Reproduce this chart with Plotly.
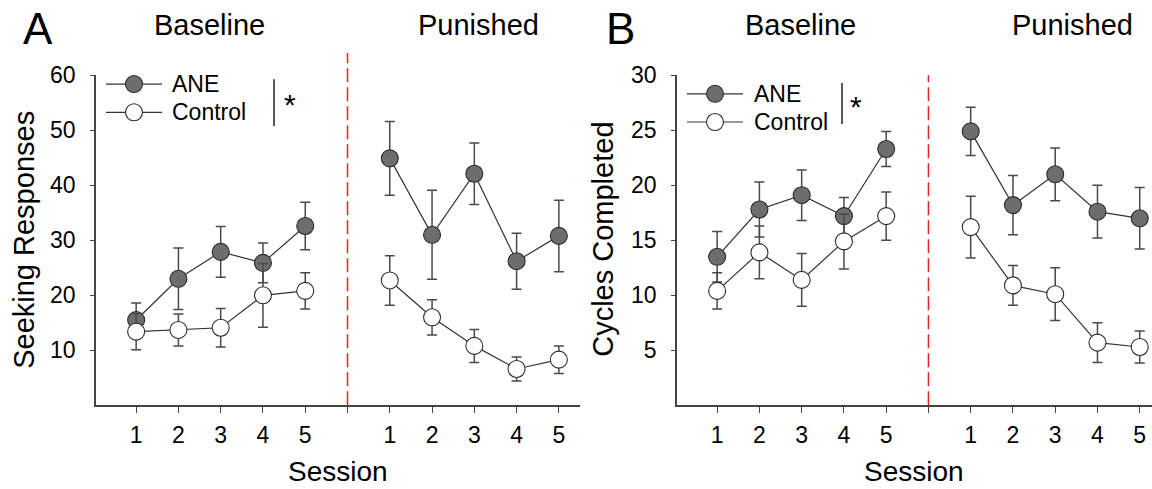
import plotly.graph_objects as go

W, H = 1152, 489
FONT = "Liberation Sans, Arial, sans-serif"

# ---------------- data ----------------
sessions = [1, 2, 3, 4, 5]
tick_labels = ["1", "2", "3", "4", "5", "", "1", "2", "3", "4", "5"]
phases = ["Baseline", "Punished"]

A_ane_base = [15.5, 23.0, 27.9, 25.9, 32.6]
A_ane_base_err = [3.1, 5.6, 4.6, 3.6, 4.3]
A_ctl_base = [13.4, 13.7, 14.1, 20.0, 20.8]
A_ctl_base_err = [3.3, 2.9, 3.5, 5.8, 3.3]
A_ane_pun = [44.9, 31.0, 42.1, 26.2, 30.8]
A_ane_pun_err = [6.7, 8.1, 5.6, 5.1, 6.5]
A_ctl_pun = [22.7, 16.0, 10.8, 6.6, 8.3]
A_ctl_pun_err = [4.5, 3.2, 3.0, 2.2, 2.5]

B_ane_base = [13.5, 17.8, 19.1, 17.2, 23.3]
B_ane_base_err = [2.3, 2.5, 2.3, 1.7, 1.6]
B_ctl_base = [10.4, 13.9, 11.4, 14.9, 17.2]
B_ctl_base_err = [1.65, 2.4, 2.4, 2.5, 2.2]
B_ane_pun = [24.9, 18.2, 21.0, 17.6, 17.0]
B_ane_pun_err = [2.2, 2.7, 2.4, 2.4, 2.8]
B_ctl_pun = [16.2, 10.9, 10.1, 5.7, 5.3]
B_ctl_pun_err = [2.8, 1.8, 2.4, 1.8, 1.45]

A_yticks = [10, 20, 30, 40, 50, 60]
B_yticks = [5, 10, 15, 20, 25, 30]

# ---------------- helpers ----------------
base_x = sessions
pun_x = [s + 6 for s in sessions]
break_x = 6

def px(x):
    return x / W

def py(y):
    return 1 - y / H

ANE_FILL = "#6d6d6d"
EDGE = "#2b2b2b"
LINE = "#333333"
ERR = "#4a4a4a"

fig = go.Figure()

def add_series(xs, ys, errs, fill, xa, ya):
    fig.add_trace(go.Scatter(
        x=xs, y=ys, mode="lines+markers",
        line=dict(color=LINE, width=1.2),
        marker=dict(size=17, color=fill, line=dict(color=EDGE, width=1.1)),
        error_y=dict(type="data", array=errs, visible=True, color=ERR,
                     thickness=1.5, width=5),
        xaxis=xa, yaxis=ya, showlegend=False, hoverinfo="skip"))

panels = [
    ("x", "y", A_ane_base, A_ane_base_err, A_ctl_base, A_ctl_base_err,
     A_ane_pun, A_ane_pun_err, A_ctl_pun, A_ctl_pun_err),
    ("x2", "y2", B_ane_base, B_ane_base_err, B_ctl_base, B_ctl_base_err,
     B_ane_pun, B_ane_pun_err, B_ctl_pun, B_ctl_pun_err),
]
for xa, ya, ab, abe, cb, cbe, ap, ape, cp, cpe in panels:
    add_series(base_x, ab, abe, ANE_FILL, xa, ya)
    add_series(pun_x, ap, ape, ANE_FILL, xa, ya)
    add_series(base_x, cb, cbe, "white", xa, ya)
    add_series(pun_x, cp, cpe, "white", xa, ya)

ydom = [py(403), py(64)]
axis_common = dict(
    showline=True, linecolor="#444444", linewidth=1.5, ticks="outside",
    tickcolor="#444444", tickwidth=1.2, showgrid=False, zeroline=False,
    tickfont=dict(family=FONT, size=23, color="black"), mirror=False,
)
xcommon = dict(axis_common, tickvals=list(range(1, 12)), ticktext=tick_labels,
               ticklen=6, ticklabelstandoff=2)
ycommon = dict(axis_common, ticklen=4, ticklabelstandoff=10)

fig.update_layout(
    width=W, height=H, margin=dict(l=0, r=0, t=0, b=0),
    paper_bgcolor="white", plot_bgcolor="white",
    xaxis=dict(xcommon, domain=[px(96), px(580)], range=[0.05, 11.5], anchor="y"),
    yaxis=dict(ycommon, domain=ydom, range=[0, 60], tickvals=A_yticks, anchor="x"),
    xaxis2=dict(xcommon, domain=[px(677), 1.0], range=[0.05, 11.29], anchor="y2"),
    yaxis2=dict(ycommon, domain=ydom, range=[0, 30], tickvals=B_yticks, anchor="x2"),
    showlegend=False,
)

shapes = []
annotations = []

def text(x, y, s, size, xanchor="center", angle=0, yanchor="middle"):
    annotations.append(dict(x=px(x), y=py(y), xref="paper", yref="paper",
                            text=s, showarrow=False, xanchor=xanchor,
                            yanchor=yanchor, textangle=angle, borderpad=0,
                            font=dict(family=FONT, size=size, color="black")))

# red dashed break lines
for xr, top in (("x", 41), ("x2", 64)):
    shapes.append(dict(type="line", xref=xr, yref="paper", x0=break_x, x1=break_x,
                       y0=py(403), y1=py(top),
                       line=dict(color="#e8231f", width=1.5, dash="14px,5px")))

# panel letters and phase titles
text(38, 16, "A", 44)
text(620, 16, "B", 44)
text(209, 12, phases[0], 29)
text(478, 12, phases[1], 29)
text(800, 12, phases[0], 29)
text(1072, 12, phases[1], 29)

# axis titles
text(24, 233, "Seeking Responses", 29, angle=-90)
text(603, 233, "Cycles Completed", 29, angle=-90)
text(338, 488, "Session", 28, yanchor="bottom")
text(914, 488, "Session", 28, yanchor="bottom")

# custom legends
def legend(lx0, lx1, mx, y_ane, y_ctl, tx, bx, by0, by1, sx, sy):
    for yy, fill, lab in ((y_ane, ANE_FILL, "ANE"), (y_ctl, "white", "Control")):
        shapes.append(dict(type="line", xref="paper", yref="paper",
                           x0=px(lx0), x1=px(lx1), y0=py(yy), y1=py(yy),
                           line=dict(color=LINE, width=1.2)))
        shapes.append(dict(type="circle", xref="paper", yref="paper",
                           xsizemode="pixel", ysizemode="pixel",
                           xanchor=px(mx), yanchor=py(yy),
                           x0=-8.5, x1=8.5, y0=-8.5, y1=8.5,
                           fillcolor=fill, line=dict(color=EDGE, width=1.1)))
        text(tx, yy, lab, 23, xanchor="left")
    shapes.append(dict(type="line", xref="paper", yref="paper",
                       x0=px(bx), x1=px(bx), y0=py(by0), y1=py(by1),
                       line=dict(color="black", width=1.3)))
    text(sx, sy, "*", 30)

legend(106, 162, 134, 73, 102, 171, 274, 68, 116, 290, 94)
legend(687, 743, 715, 83, 112, 753, 842, 72, 114, 856, 96)

fig.update_layout(shapes=shapes, annotations=annotations)
fig.write_html("out.html")
